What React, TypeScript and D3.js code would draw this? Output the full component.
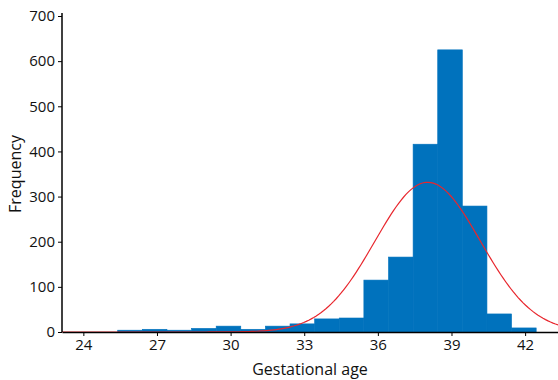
import React, { useRef, useEffect } from "react";
import * as d3 from "d3";

// histogram counts per bin (weeks)
const counts = [4, 6, 4, 8, 13, 6, 13, 18, 29, 31, 115, 166, 416, 625, 279, 40, 9];
const binStart = 25.4;
const binWidth = 1.003;

// fitted normal curve
const fitMean = 38.03;
const fitSd = 2.15;

const xTicks = [24, 27, 30, 33, 36, 39, 42];
const yTicks = [0, 100, 200, 300, 400, 500, 600, 700];

const W = 558;
const H = 380;

const App = () => {
  const svgRef = useRef<SVGSVGElement>(null);

  useEffect(() => {
    const svg = d3.select(svgRef.current);
    svg.selectAll("*").remove();

    const margin = { top: 16, right: 0, bottom: 48, left: 62 };
    const font = "'Open Sans', sans-serif";

    const x = d3
      .scaleLinear()
      .domain([23.13, 43.34])
      .range([margin.left, W - margin.right]);

    const y = d3
      .scaleLinear()
      .domain([0, 700])
      .range([H - margin.bottom, margin.top]);

    const bins = counts.map((c, i) => ({
      x0: binStart + i * binWidth,
      x1: binStart + (i + 1) * binWidth,
      count: c,
    }));

    // bars (no gaps between them)
    svg
      .append("g")
      .selectAll("rect")
      .data(bins)
      .join("rect")
      .attr("x", (d) => x(d.x0))
      .attr("width", (d) => x(d.x1) - x(d.x0))
      .attr("y", (d) => y(d.count))
      .attr("height", (d) => y(0) - y(d.count))
      .attr("fill", "#0072bd")
      .attr("stroke", "#0072bd")
      .attr("stroke-width", 0.6);

    // normal fit scaled to counts
    const total = d3.sum(counts);
    const amp = (total * binWidth) / (fitSd * Math.sqrt(2 * Math.PI));
    const xs = d3.range(200).map((i) => 23.13 + (i / 199) * (43.34 - 23.13));
    const line = d3
      .line<number>()
      .x((v) => x(v))
      .y((v) => y(amp * Math.exp(-((v - fitMean) ** 2) / (2 * fitSd * fitSd))));

    svg
      .append("path")
      .datum(xs)
      .attr("d", line)
      .attr("fill", "none")
      .attr("stroke", "#e8262d")
      .attr("stroke-width", 1.2);

    // x axis
    const gx = svg
      .append("g")
      .attr("transform", `translate(0,${y(0)})`)
      .call(d3.axisBottom(x).tickValues(xTicks).tickSize(4).tickSizeOuter(0));
    gx.select(".domain").attr("stroke", "#000").attr("stroke-width", 1.5);
    gx.selectAll(".tick line").attr("stroke", "#000");
    gx.selectAll("text")
      .attr("font-family", font)
      .attr("font-size", 15)
      .attr("fill", "#111")
      .attr("y", 7);

    // y axis
    const gy = svg
      .append("g")
      .attr("transform", `translate(${margin.left},0)`)
      .call(d3.axisLeft(y).tickValues(yTicks).tickSize(4).tickSizeOuter(0));
    gy.select(".domain").attr("stroke", "#000").attr("stroke-width", 1.5)
      .attr("d", `M0,${y(0)}V${margin.top - 3}`);
    gy.selectAll(".tick line").attr("stroke", "#000");
    gy.selectAll("text")
      .attr("font-family", font)
      .attr("font-size", 15)
      .attr("fill", "#111")
      .attr("x", -7);

    // labels
    svg
      .append("text")
      .attr("x", (margin.left + W) / 2)
      .attr("y", H - 5)
      .attr("text-anchor", "middle")
      .attr("font-family", font)
      .attr("font-size", 16)
      .attr("fill", "#111")
      .text("Gestational age");

    svg
      .append("text")
      .attr("transform", `translate(21,${(y(0) + y(700)) / 2}) rotate(-90)`)
      .attr("text-anchor", "middle")
      .attr("font-family", font)
      .attr("font-size", 16)
      .attr("fill", "#111")
      .text("Frequency");
  }, []);

  return (
    <svg
      ref={svgRef}
      width={W}
      height={H}
      style={{ position: "absolute", left: 0, top: 0, background: "#fff" }}
    />
  );
};

export default App;
